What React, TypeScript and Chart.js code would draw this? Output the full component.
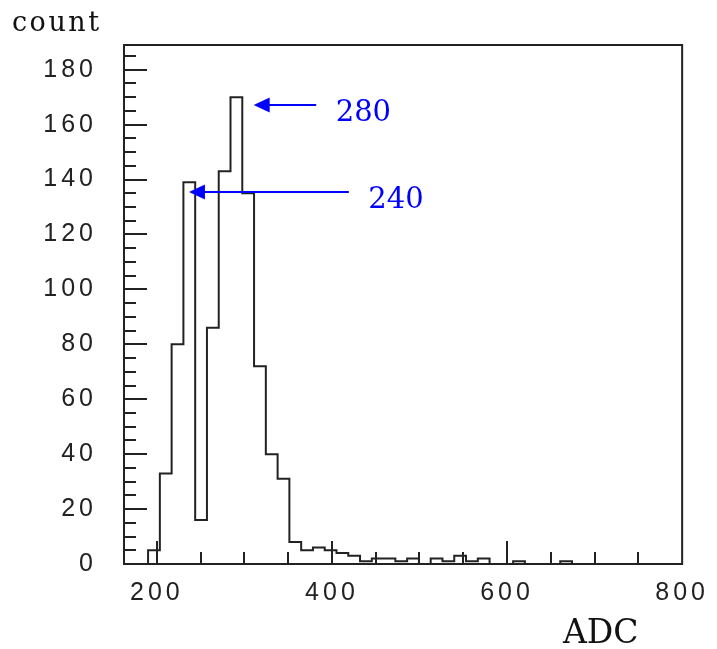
import React, { useEffect, useRef } from "react";
import { Chart, registerables } from "chart.js";

Chart.register(...registerables);

// ---- data ----
const binStart = 190;
const binWidth = 13.45;
const counts = [5, 33, 80, 139, 16, 86, 143, 170, 135, 72, 40, 31, 8, 5, 6, 5, 4, 3, 1, 2, 2, 1, 2, 0, 2, 1, 3, 1, 2, 0, 0, 1, 0, 0, 0, 1];
const xTicks = [200, 400, 600, 800];
const yTicks = [0, 20, 40, 60, 80, 100, 120, 140, 160, 180];
const xRange = [162.5, 800];
const yRange = [0, 189];
const xMinorStep = 50;
const yMinorStep = 5;
const xTitle = "ADC";
const yTitle = "count";
const arrowLabels = ["280", "240"];
const arrowTipX = [310.6, 236.7];
const arrowTipY = [167.3, 135.3];
const arrowTailX = [382, 419.3];

// each point holds its bin's count until the next bin edge (stepped: 'before')
const points = [
  { x: xRange[0], y: 0 },
  ...counts.map((c, i) => ({ x: binStart + i * binWidth, y: c })),
  { x: binStart + counts.length * binWidth, y: 0 },
  { x: xRange[1], y: 0 },
];

const INK = "#222";
const BLUE = "#0000ff";

const decorPlugin = {
  id: "decor",
  beforeDraw(chart: any) {
    chart.ctx.letterSpacing = "4px";
  },
  afterDraw(chart: any) {
    const { ctx, chartArea: a } = chart;
    const x = chart.scales.x;
    const y = chart.scales.y;
    ctx.save();
    ctx.letterSpacing = "0px";
    ctx.strokeStyle = INK;
    ctx.lineWidth = 2;
    ctx.lineCap = "butt";
    ctx.beginPath();
    // y ticks (inward)
    for (let v = yMinorStep; v <= yRange[1]; v += yMinorStep) {
      const py = Math.round(y.getPixelForValue(v));
      const len = v % 20 === 0 ? 23 : 12;
      ctx.moveTo(a.left, py);
      ctx.lineTo(a.left + len, py);
    }
    // x ticks (inward)
    for (let v = Math.ceil(xRange[0] / xMinorStep) * xMinorStep; v < xRange[1]; v += xMinorStep) {
      const px = Math.round(x.getPixelForValue(v));
      const len = v % 200 === 0 ? 23 : 12;
      ctx.moveTo(px, a.bottom);
      ctx.lineTo(px, a.bottom - len);
    }
    ctx.stroke();
    // frame
    ctx.strokeRect(a.left, a.top, a.right - a.left, a.bottom - a.top);

    // arrows
    for (let i = 0; i < arrowLabels.length; i++) {
      const tx = x.getPixelForValue(arrowTipX[i]);
      const ty = Math.round(y.getPixelForValue(arrowTipY[i]));
      const tail = x.getPixelForValue(arrowTailX[i]);
      ctx.strokeStyle = BLUE;
      ctx.fillStyle = BLUE;
      ctx.lineWidth = 2;
      ctx.beginPath();
      ctx.moveTo(tx + 12, ty);
      ctx.lineTo(tail, ty);
      ctx.stroke();
      ctx.beginPath();
      ctx.moveTo(tx, ty);
      ctx.lineTo(tx + 16, ty - 7.5);
      ctx.lineTo(tx + 16, ty + 7.5);
      ctx.closePath();
      ctx.fill();
      ctx.font = "29px 'DejaVu Serif'";
      ctx.textAlign = "left";
      ctx.textBaseline = "alphabetic";
      ctx.fillText(arrowLabels[i], tail + 19.5, ty + 15.5);
    }

    // axis titles
    ctx.fillStyle = "#111";
    ctx.font = "27px 'DejaVu Serif'";
    ctx.letterSpacing = "2.5px";
    ctx.textAlign = "left";
    ctx.textBaseline = "alphabetic";
    ctx.fillText(yTitle, 12, 31);
    ctx.letterSpacing = "0px";
    ctx.font = "33px 'DejaVu Serif'";
    ctx.fillText(xTitle, 563, 643);
    ctx.restore();
  },
};

export default function App() {
  const ref = useRef<HTMLCanvasElement | null>(null);
  useEffect(() => {
    document.body.style.margin = "0";
    const canvas = ref.current;
    if (!canvas) return;
    const chart = new Chart(canvas, {
      type: "line",
      data: {
        datasets: [
          {
            data: points,
            stepped: "before",
            borderColor: INK,
            borderWidth: 2,
            pointRadius: 0,
            fill: false,
            tension: 0,
          },
        ],
      },
      options: {
        responsive: false,
        animation: false,
        devicePixelRatio: 1,
        layout: { padding: { left: 0, top: 45, right: 33, bottom: 0 } },
        plugins: { legend: { display: false }, tooltip: { enabled: false } },
        scales: {
          x: {
            type: "linear",
            min: xRange[0],
            max: xRange[1],
            grid: { display: false, drawTicks: false },
            border: { display: false },
            afterBuildTicks: (s: any) => {
              s.ticks = xTicks.map((v) => ({ value: v }));
            },
            afterFit: (s: any) => {
              s.height = 649 - 564;
            },
            ticks: {
              autoSkip: false,
              maxRotation: 0,
              padding: 14,
              color: INK,
              font: { family: "'Liberation Sans'", size: 25 },
            },
          },
          y: {
            type: "linear",
            min: yRange[0],
            max: yRange[1],
            grid: { display: false, drawTicks: false },
            border: { display: false },
            afterBuildTicks: (s: any) => {
              s.ticks = yTicks.map((v) => ({ value: v }));
            },
            afterFit: (s: any) => {
              s.width = 124;
            },
            ticks: {
              autoSkip: false,
              padding: 27,
              color: INK,
              font: { family: "'Liberation Sans'", size: 25 },
            },
          },
        },
      },
      plugins: [decorPlugin],
    });
    return () => chart.destroy();
  }, []);
  return (
    <div style={{ position: "fixed", left: 0, top: 0, width: 717, height: 649, background: "#fff" }}>
      <canvas ref={ref} width={717} height={649} style={{ display: "block" }} />
    </div>
  );
}
